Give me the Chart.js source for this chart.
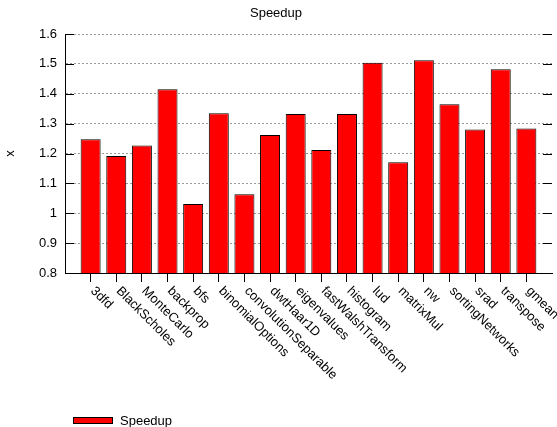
<!DOCTYPE html>
<html>
<head>
<meta charset="utf-8">
<script src="https://cdn.jsdelivr.net/npm/chart.js@4.4.1/dist/chart.umd.min.js"></script>
<style>
  html, body { margin: 0; padding: 0; background: #fff; }
</style>
</head>
<body>
<canvas id="c" width="557" height="427"></canvas>
<script>
// Benchmarks and their measured speedup
const categories = ['3dfd', 'BlackScholes', 'MonteCarlo', 'backprop', 'bfs', 'binomialOptions',
  'convolutionSeparable', 'dwtHaar1D', 'eigenvalues', 'fastWalshTransform', 'histogram', 'lud',
  'matrixMul', 'nw', 'sortingNetworks', 'srad', 'transpose', 'gmean'];
const speedup = [1.248, 1.192, 1.227, 1.415, 1.031, 1.335, 1.064, 1.262, 1.332, 1.212,
  1.332, 1.504, 1.171, 1.512, 1.365, 1.280, 1.482, 1.284];
const yTickLabels = ['0.8', '0.9', '1', '1.1', '1.2', '1.3', '1.4', '1.5', '1.6'];
const seriesName = 'Speedup';
const chartTitle = 'Speedup';
const yAxisTitle = 'x';

const FONT = '"Liberation Sans", Arial, Helvetica, sans-serif';
const yMin = parseFloat(yTickLabels[0]);
const yMax = parseFloat(yTickLabels[yTickLabels.length - 1]);
const yStep = 0.1;

// Inward y ticks on both sides, rotated category labels and the key
const decor = {
  id: 'decor',
  afterDraw(chart) {
    const { ctx, chartArea: a, scales: { x, y } } = chart;
    ctx.save();
    ctx.strokeStyle = '#000';
    ctx.lineWidth = 1;
    y.ticks.forEach(t => {
      const py = Math.round(y.getPixelForValue(t.value)) + 0.5;
      ctx.beginPath();
      ctx.moveTo(a.left, py); ctx.lineTo(a.left + 9, py);
      ctx.moveTo(a.right - 9, py); ctx.lineTo(a.right, py);
      ctx.stroke();
    });

    ctx.font = '13px ' + FONT;
    ctx.fillStyle = '#000';
    ctx.textAlign = 'left';
    ctx.textBaseline = 'middle';
    categories.forEach((c, i) => {
      const px = x.getPixelForValue(i);
      ctx.save();
      ctx.translate(px + 2, a.bottom + 16);
      ctx.rotate(Math.PI / 4);
      ctx.fillText(c, 0, 0);
      ctx.restore();
    });

    // key
    const ds = chart.data.datasets[0];
    ctx.fillStyle = ds.backgroundColor;
    ctx.fillRect(73, 417.5, 40, 6);
    ctx.strokeStyle = '#000';
    ctx.strokeRect(73.5, 417.5, 39, 6);
    ctx.fillStyle = '#000';
    ctx.fillText(ds.label, 120, 421);
    ctx.restore();
  }
};

new Chart(document.getElementById('c'), {
  type: 'bar',
  data: {
    datasets: [{
      label: seriesName,
      data: speedup.map((v, i) => ({ x: i, y: v })),
      backgroundColor: '#ff0000',
      borderColor: '#000',
      borderWidth: 1,
      borderSkipped: 'bottom',
      barPercentage: 1,
      categoryPercentage: 0.78
    }]
  },
  options: {
    responsive: false,
    animation: false,
    devicePixelRatio: 1,
    layout: { padding: { left: 0, right: 5, top: 0, bottom: 0 } },
    plugins: {
      legend: { display: false },
      tooltip: { enabled: false },
      title: {
        display: true,
        text: chartTitle,
        color: '#000',
        font: { family: FONT, size: 13, weight: 'normal' },
        padding: { top: 6, bottom: 12.4 }
      }
    },
    scales: {
      x: {
        type: 'linear',
        min: -1,
        max: categories.length,
        offset: false,
        afterBuildTicks: s => { s.ticks = categories.map((_, i) => ({ value: i })); },
        afterFit: s => { s.height = 427 - 273; },
        ticks: { display: false },
        grid: { offset: false, drawOnChartArea: false, drawTicks: true, tickLength: 9, color: '#000', lineWidth: 1 },
        border: { display: true, color: '#000', width: 1 }
      },
      y: {
        min: yMin,
        max: yMax,
        afterFit: s => { s.width = 65; },
        ticks: {
          stepSize: yStep,
          padding: 8,
          color: '#000',
          font: { family: FONT, size: 13 },
          callback: v => yTickLabels[Math.round((v - yMin) / yStep)] ?? ''
        },
        grid: { drawTicks: false, color: '#9a9a9a', lineWidth: 1 },
        border: { display: true, color: '#000', width: 1, dash: [2, 2] },
        title: {
          display: true,
          text: yAxisTitle,
          color: '#000',
          font: { family: FONT, size: 13 },
          padding: { top: 3, bottom: 0 }
        }
      }
    }
  },
  plugins: [decor]
});
</script>
</body>
</html>
